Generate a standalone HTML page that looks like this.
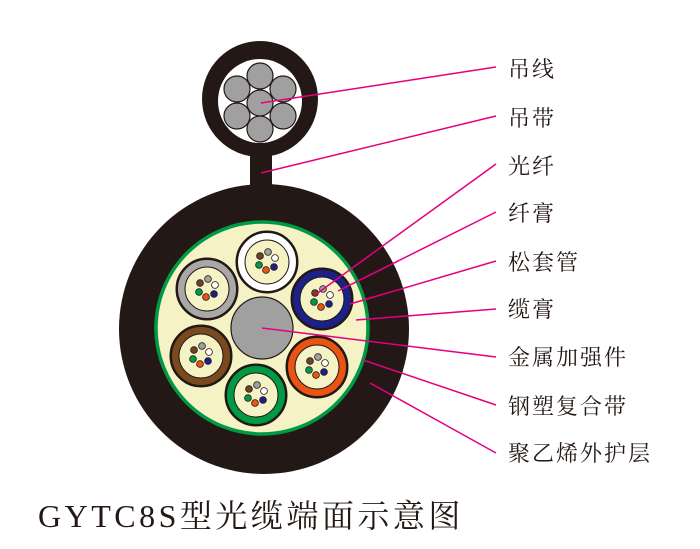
<!DOCTYPE html>
<html><head><meta charset="utf-8"><style>
html,body{margin:0;padding:0;background:#fff;}
svg{display:block}
.l{font-family:"Noto Serif CJK SC","Liberation Serif",serif;font-size:22px;fill:#231815;letter-spacing:2px}
.t{font-family:"Liberation Serif","Noto Serif CJK SC",serif;font-size:32px;fill:#231815;letter-spacing:3.5px}
</style></head><body>
<svg width="700" height="549" viewBox="0 0 700 549" xmlns="http://www.w3.org/2000/svg">
<defs>
<g id="fib">
<circle cx="-7" cy="-6" r="3.4" fill="#6b4423" stroke="#231815" stroke-width="0.8"/>
<circle cx="1" cy="-10" r="3.4" fill="#a0a0a0" stroke="#231815" stroke-width="0.8"/>
<circle cx="8" cy="-4" r="3.4" fill="#fff" stroke="#231815" stroke-width="0.8"/>
<circle cx="7" cy="5" r="3.4" fill="#1d2088" stroke="#231815" stroke-width="0.8"/>
<circle cx="-1" cy="8" r="3.4" fill="#e95412" stroke="#231815" stroke-width="0.8"/>
<circle cx="-8" cy="3" r="3.4" fill="#009944" stroke="#231815" stroke-width="0.8"/>
</g>
</defs>
<!-- messenger -->
<rect x="250" y="150" width="22" height="40" fill="#231815"/>
<circle cx="260" cy="99" r="58" fill="#231815"/>
<circle cx="260" cy="101" r="42" fill="#fff"/>
<g fill="#a0a0a0" stroke="#231815" stroke-width="1.2">
<circle cx="260" cy="103" r="13"/>
<circle cx="260" cy="76" r="13"/>
<circle cx="283" cy="89" r="13"/>
<circle cx="283" cy="116" r="13"/>
<circle cx="260" cy="129" r="13"/>
<circle cx="237" cy="116" r="13"/>
<circle cx="237" cy="89" r="13"/>
</g>
<!-- main cable -->
<circle cx="264" cy="329" r="145" fill="#231815"/>
<circle cx="262" cy="328" r="106" fill="#f5f2c6" stroke="#009944" stroke-width="3.5"/>
<circle cx="262" cy="328" r="31" fill="#a0a0a0" stroke="#231815" stroke-width="1.2"/>
<g stroke="#231815" stroke-width="1">
<g transform="translate(267,262)"><circle r="31" fill="#231815"/><circle r="29.5" fill="#fff"/><circle r="22" fill="#f5f2c6" stroke="#231815"/><use href="#fib"/></g>
<g transform="translate(322,299)"><circle r="31" fill="#231815"/><circle r="29.5" fill="#1d2088"/><circle r="22" fill="#f5f2c6" stroke="#231815"/><use href="#fib"/></g>
<g transform="translate(317,367)"><circle r="31" fill="#231815"/><circle r="29.5" fill="#e95412"/><circle r="22" fill="#f5f2c6" stroke="#231815"/><use href="#fib"/></g>
<g transform="translate(256,395)"><circle r="31" fill="#231815"/><circle r="29.5" fill="#009944"/><circle r="22" fill="#f5f2c6" stroke="#231815"/><use href="#fib"/></g>
<g transform="translate(201,356)"><circle r="31" fill="#231815"/><circle r="29.5" fill="#7a4a1e"/><circle r="22" fill="#f5f2c6" stroke="#231815"/><use href="#fib"/></g>
<g transform="translate(207,289)"><circle r="31" fill="#231815"/><circle r="29.5" fill="#a8a8a8"/><circle r="22" fill="#f5f2c6" stroke="#231815"/><use href="#fib"/></g>
</g>
<!-- leader lines -->
<g stroke="#e4007f" stroke-width="1.5" fill="none">
<line x1="261" y1="103" x2="496" y2="67"/>
<line x1="261" y1="173" x2="496" y2="116"/>
<line x1="315" y1="295" x2="496" y2="164"/>
<line x1="338" y1="291" x2="496" y2="212"/>
<line x1="350" y1="304" x2="496" y2="261"/>
<line x1="356" y1="320" x2="496" y2="309"/>
<line x1="262" y1="328" x2="496" y2="357"/>
<line x1="363" y1="360" x2="496" y2="405"/>
<line x1="370" y1="383" x2="496" y2="453"/>
</g>
<g class="l">
<text x="508" y="77">吊线</text>
<text x="508" y="126">吊带</text>
<text x="508" y="174">光纤</text>
<text x="508" y="221">纤膏</text>
<text x="508" y="270">松套管</text>
<text x="508" y="317">缆膏</text>
<text x="508" y="365">金属加强件</text>
<text x="508" y="414">钢塑复合带</text>
<text x="508" y="461">聚乙烯外护层</text>
</g>
<text class="t" x="38" y="527">GYTC8S型光缆端面示意图</text>
</svg>
</body></html>
